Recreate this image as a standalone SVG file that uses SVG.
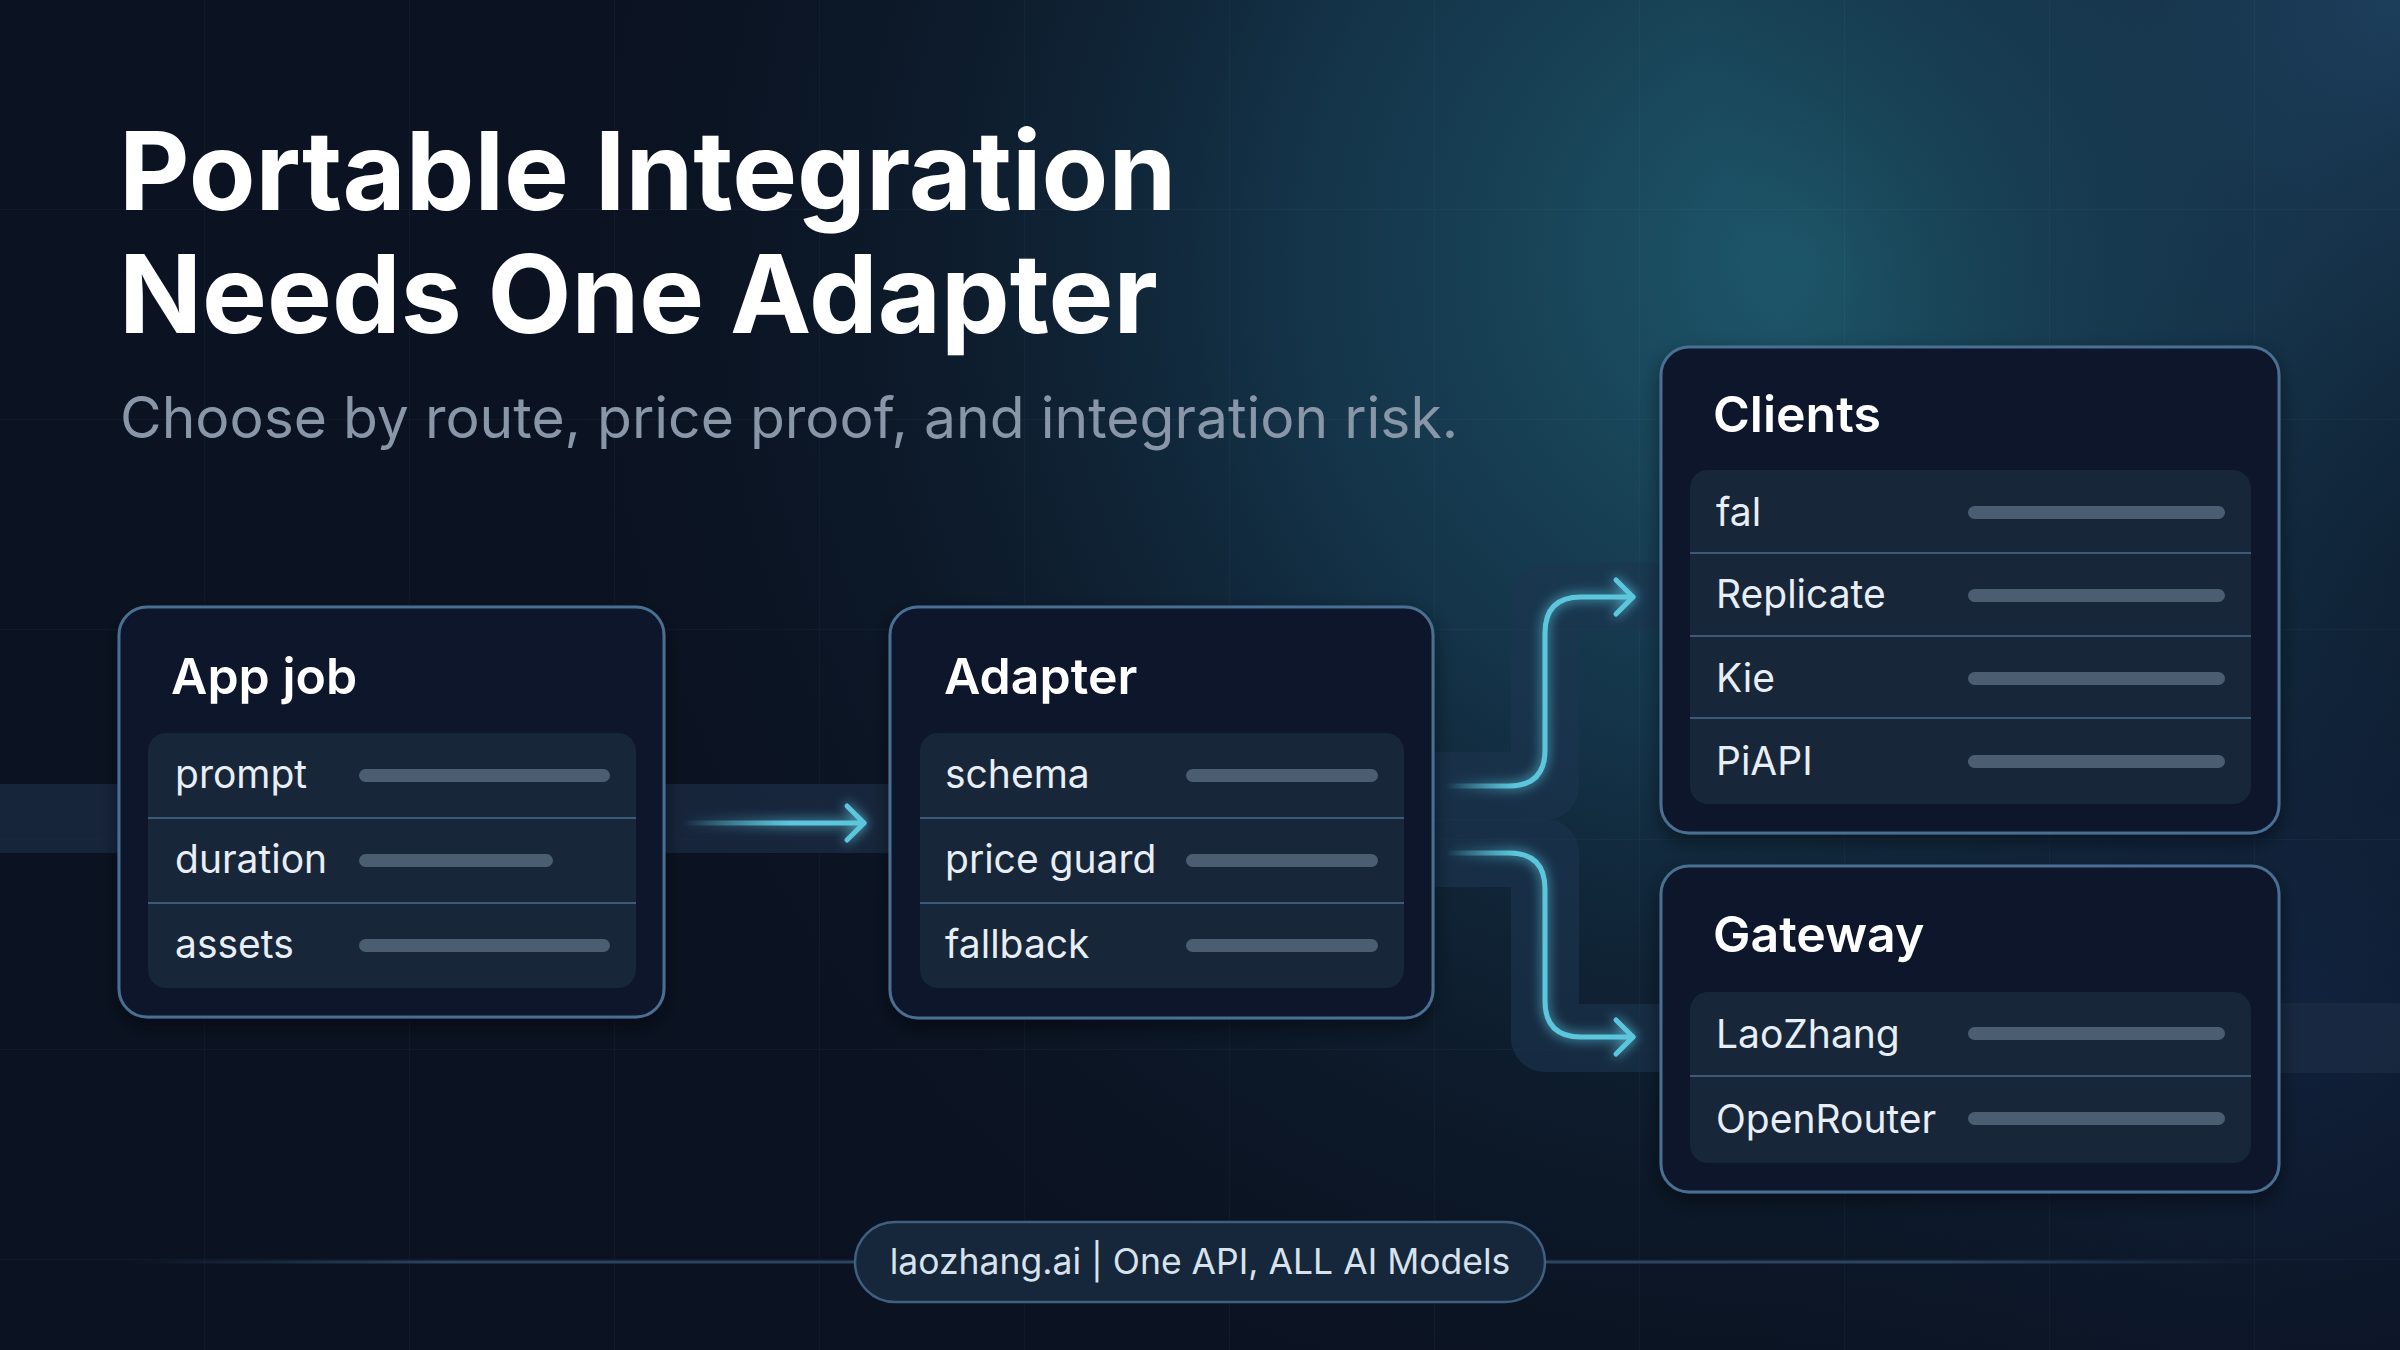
<svg xmlns="http://www.w3.org/2000/svg" width="2400" height="1350" viewBox="0 0 2400 1350">
<defs>
  <radialGradient id="glowTR" cx="1800" cy="260" r="1250" gradientUnits="userSpaceOnUse">
    <stop offset="0" stop-color="#1f5c6f" stop-opacity="0.95"/>
    <stop offset="0.4" stop-color="#18425a" stop-opacity="0.7"/>
    <stop offset="1" stop-color="#0b1322" stop-opacity="0"/>
  </radialGradient>
  <radialGradient id="glowTC" cx="2400" cy="0" r="700" gradientUnits="userSpaceOnUse">
    <stop offset="0" stop-color="#22486a" stop-opacity="0.7"/>
    <stop offset="1" stop-color="#0b1322" stop-opacity="0"/>
  </radialGradient>
  <radialGradient id="glowBR" cx="2300" cy="1000" r="700" gradientUnits="userSpaceOnUse">
    <stop offset="0" stop-color="#14284a" stop-opacity="0.6"/>
    <stop offset="1" stop-color="#0b1322" stop-opacity="0"/>
  </radialGradient>
  <linearGradient id="footLine" x1="130" y1="0" x2="2270" y2="0" gradientUnits="userSpaceOnUse">
    <stop offset="0" stop-color="#2a4560" stop-opacity="0"/>
    <stop offset="0.15" stop-color="#2a4560"/>
    <stop offset="0.85" stop-color="#2a4560"/>
    <stop offset="1" stop-color="#2a4560" stop-opacity="0"/>
  </linearGradient>
  <linearGradient id="fadeA" x1="683" y1="0" x2="790" y2="0" gradientUnits="userSpaceOnUse">
    <stop offset="0" stop-color="#5cc6dc" stop-opacity="0"/>
    <stop offset="1" stop-color="#5cc6dc"/>
  </linearGradient>
  <linearGradient id="fadeB" x1="1446" y1="0" x2="1515" y2="0" gradientUnits="userSpaceOnUse">
    <stop offset="0" stop-color="#5cc6dc" stop-opacity="0"/>
    <stop offset="1" stop-color="#5cc6dc"/>
  </linearGradient>
  <pattern id="grid" x="0" y="0" width="205" height="210" patternUnits="userSpaceOnUse">
    <path d="M205 0 V210 M0 210 H205" fill="none" stroke="#7fa8d0" stroke-opacity="0.045" stroke-width="2"/>
  </pattern>
  <filter id="glow" x="-30%" y="-30%" width="160%" height="160%">
    <feGaussianBlur stdDeviation="6" result="b"/>
    <feMerge><feMergeNode in="b"/><feMergeNode in="SourceGraphic"/></feMerge>
  </filter>
  <filter id="shadow" x="-10%" y="-10%" width="120%" height="125%">
    <feDropShadow dx="0" dy="8" stdDeviation="10" flood-color="#000000" flood-opacity="0.45"/>
  </filter>
  <marker id="chev" markerUnits="userSpaceOnUse" viewBox="-24 -24 30 48" markerWidth="30" markerHeight="48" refX="0" refY="0" orient="auto">
    <path d="M-17,-17 L0,0 L-17,17" fill="none" stroke="#5cc6dc" stroke-width="5" stroke-linecap="round" stroke-linejoin="round"/>
  </marker>
  <style>
    .title{font-family:Inter,"Liberation Sans",sans-serif;font-weight:700;font-size:109px;fill:#ffffff}
    .sub{font-family:Inter,"Liberation Sans",sans-serif;font-weight:400;font-size:57px;fill:#8896a8}
    .node{fill:#0e1729;stroke:#4a6f92;stroke-width:3}
    .panel{fill:#182639}
    .div{stroke:#3b5a7a;stroke-width:2}
    .bar{fill:#4b5d71}
    .ntitle{font-family:Inter,"Liberation Sans",sans-serif;font-weight:600;font-size:50px;fill:#ffffff}
    .row{font-family:Inter,"Liberation Sans",sans-serif;font-weight:400;font-size:39px;fill:#e8eef6}
    .band{fill:none;stroke:#1c3550;stroke-opacity:0.6;stroke-width:68;stroke-linejoin:round}
    .conn{fill:none;stroke-width:5;stroke-linecap:round;stroke-linejoin:round}
    .foot{font-family:Inter,"Liberation Sans",sans-serif;font-weight:400;font-size:35.5px;fill:#d8e2ec}
  </style>
</defs>

<!-- background -->
<rect width="2400" height="1350" fill="#0b1322"/>
<rect width="2400" height="1350" fill="url(#glowTR)"/>
<rect width="2400" height="1350" fill="url(#glowTC)"/>
<rect width="2400" height="1350" fill="url(#glowBR)"/>
<rect width="2400" height="1350" fill="url(#grid)"/>

<!-- bands -->
<g id="bands">
  <rect x="0" y="784" width="900" height="69" fill="#1a2b42" fill-opacity="0.8"/>
  <rect x="2200" y="1003" width="200" height="70" fill="#1a2b42" fill-opacity="0.8"/>
  <path class="band" d="M1433 786 H1545 V597 H1670"/>
  <path class="band" d="M1433 853 H1545 V1038 H1670"/>
</g>

<!-- footer line -->
<line x1="130" y1="1262" x2="2270" y2="1262" stroke="url(#footLine)" stroke-width="3"/>

<!-- title -->
<g id="heading">
  <text class="title" x="119" y="210">Portable Integration</text>
  <text class="title" x="119" y="333">Needs One Adapter</text>
  <text class="sub" x="120" y="438">Choose by route, price proof, and integration risk.</text>
</g>

<!-- connectors -->
<g id="connectors" filter="url(#glow)">
  <path class="conn" d="M683 823 H864" stroke="url(#fadeA)" marker-end="url(#chev)"/>
  <path class="conn" d="M1449 786 H1509 Q1545 786 1545 750 V633 Q1545 597 1581 597 H1633" stroke="url(#fadeB)" marker-end="url(#chev)"/>
  <path class="conn" d="M1449 853 H1509 Q1545 853 1545 889 V1001 Q1545 1037 1581 1037 H1633" stroke="url(#fadeB)" marker-end="url(#chev)"/>
</g>

<!-- App job -->
<g id="node-appjob">
  <rect class="node" x="119" y="607" width="545" height="410" rx="28" filter="url(#shadow)"/>
  <text class="ntitle" x="171" y="694">App job</text>
  <rect class="panel" x="148" y="733" width="488" height="255" rx="18"/>
  <line class="div" x1="148" y1="818" x2="636" y2="818"/>
  <line class="div" x1="148" y1="903" x2="636" y2="903"/>
  <text class="row" x="175" y="788">prompt</text>
  <rect class="bar" x="359" y="769" width="251" height="13" rx="6.5"/>
  <text class="row" x="175" y="873">duration</text>
  <rect class="bar" x="359" y="854" width="194" height="13" rx="6.5"/>
  <text class="row" x="175" y="958">assets</text>
  <rect class="bar" x="359" y="939" width="251" height="13" rx="6.5"/>
</g>

<!-- Adapter -->
<g id="node-adapter">
  <rect class="node" x="890" y="607" width="543" height="411" rx="28" filter="url(#shadow)"/>
  <text class="ntitle" x="944" y="694">Adapter</text>
  <rect class="panel" x="920" y="733" width="484" height="255" rx="18"/>
  <line class="div" x1="920" y1="818" x2="1404" y2="818"/>
  <line class="div" x1="920" y1="903" x2="1404" y2="903"/>
  <text class="row" x="945" y="788">schema</text>
  <rect class="bar" x="1186" y="769" width="192" height="13" rx="6.5"/>
  <text class="row" x="945" y="873">price guard</text>
  <rect class="bar" x="1186" y="854" width="192" height="13" rx="6.5"/>
  <text class="row" x="945" y="958">fallback</text>
  <rect class="bar" x="1186" y="939" width="192" height="13" rx="6.5"/>
</g>

<!-- Clients -->
<g id="node-clients">
  <rect class="node" x="1661" y="347" width="618" height="486" rx="28" filter="url(#shadow)"/>
  <text class="ntitle" x="1713" y="432">Clients</text>
  <rect class="panel" x="1690" y="470" width="561" height="334" rx="18"/>
  <line class="div" x1="1690" y1="553" x2="2251" y2="553"/>
  <line class="div" x1="1690" y1="636" x2="2251" y2="636"/>
  <line class="div" x1="1690" y1="718" x2="2251" y2="718"/>
  <text class="row" x="1716" y="526">fal</text>
  <rect class="bar" x="1968" y="506" width="257" height="13" rx="6.5"/>
  <text class="row" x="1716" y="608">Replicate</text>
  <rect class="bar" x="1968" y="589" width="257" height="13" rx="6.5"/>
  <text class="row" x="1716" y="692">Kie</text>
  <rect class="bar" x="1968" y="672" width="257" height="13" rx="6.5"/>
  <text class="row" x="1716" y="775">PiAPI</text>
  <rect class="bar" x="1968" y="755" width="257" height="13" rx="6.5"/>
</g>

<!-- Gateway -->
<g id="node-gateway">
  <rect class="node" x="1661" y="866" width="618" height="326" rx="28" filter="url(#shadow)"/>
  <text class="ntitle" x="1713" y="952">Gateway</text>
  <rect class="panel" x="1690" y="992" width="561" height="171" rx="18"/>
  <line class="div" x1="1690" y1="1076" x2="2251" y2="1076"/>
  <text class="row" x="1716" y="1048">LaoZhang</text>
  <rect class="bar" x="1968" y="1027" width="257" height="13" rx="6.5"/>
  <text class="row" x="1716" y="1133">OpenRouter</text>
  <rect class="bar" x="1968" y="1112" width="257" height="13" rx="6.5"/>
</g>

<!-- footer pill -->
<g id="footer">
  <rect x="855" y="1222" width="690" height="80" rx="40" fill="#16263b" stroke="#3f5f80" stroke-width="2.5"/>
  <text class="foot" x="1200" y="1274" text-anchor="middle">laozhang.ai | One API, ALL AI Models</text>
</g>
</svg>
